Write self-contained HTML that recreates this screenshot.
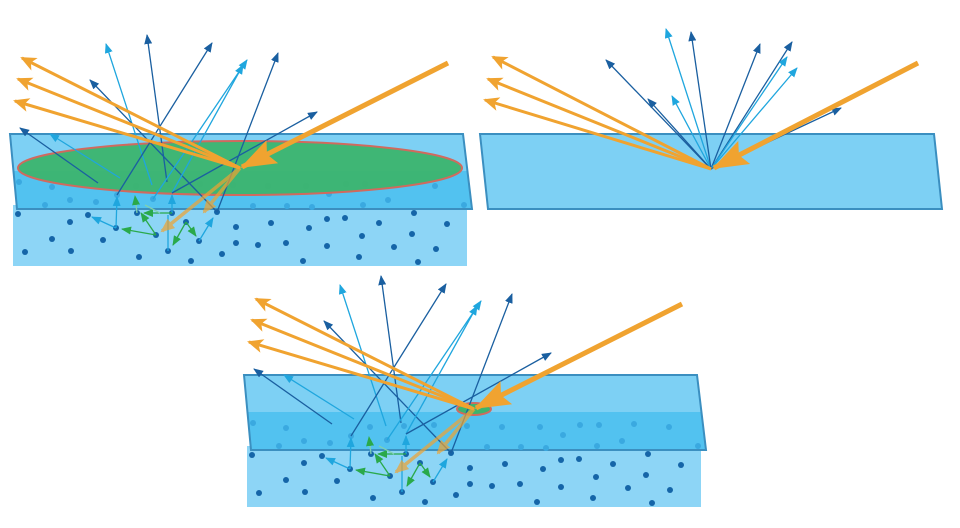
<!DOCTYPE html>
<html><head><meta charset="utf-8"><style>html,body{margin:0;padding:0;background:#fff}svg{display:block}</style></head>
<body>
<svg width="960" height="528" viewBox="0 0 960 528" xmlns="http://www.w3.org/2000/svg">
<defs>
<marker id="mo" markerUnits="userSpaceOnUse" markerWidth="20" markerHeight="14" refX="14" refY="7" orient="auto"><path d="M0,0 L16,7 L0,14 L4,7 Z" fill="#f0a330"/></marker>
<marker id="mO" markerUnits="userSpaceOnUse" markerWidth="36" markerHeight="26" refX="34" refY="13" orient="auto"><path d="M0,0 L36,13 L0,26 L6,13 Z" fill="#f0a330"/></marker>
<marker id="md" markerUnits="userSpaceOnUse" markerWidth="10" markerHeight="8" refX="9" refY="4" orient="auto"><path d="M0,0 L10,4 L0,8 Z" fill="#1a5fa0"/></marker>
<marker id="ml" markerUnits="userSpaceOnUse" markerWidth="10" markerHeight="8" refX="9" refY="4" orient="auto"><path d="M0,0 L10,4 L0,8 Z" fill="#1fa6de"/></marker>
<marker id="mg" markerUnits="userSpaceOnUse" markerWidth="10" markerHeight="8" refX="9" refY="4" orient="auto"><path d="M0,0 L10,4 L0,8 Z" fill="#2aa94a"/></marker>
<marker id="mf" markerUnits="userSpaceOnUse" markerWidth="14" markerHeight="12" refX="12" refY="6" orient="auto"><path d="M0,0 L14,6 L0,12 Z" fill="#f0a330"/></marker>

<g id="base">
 <rect x="13" y="205" width="454" height="61" fill="#8dd5f6"/>
 <polygon points="10,134 463,134 472,209 17,209" fill="#7dd0f4"/>
 <polygon points="14,171 467,171 472,209 17,209" fill="#52c2f0"/>
 <polygon points="10,134 463,134 472,209 17,209" fill="none" stroke="#3b8fc0" stroke-width="2"/>
 <g fill="#3aa9e0">
  <circle cx="19" cy="182" r="3"/><circle cx="52" cy="187" r="3"/><circle cx="45" cy="205" r="3"/><circle cx="70" cy="200" r="3"/><circle cx="96" cy="202" r="3"/><circle cx="117" cy="195" r="3"/><circle cx="153" cy="199" r="3"/><circle cx="253" cy="206" r="3"/><circle cx="287" cy="206" r="3"/><circle cx="312" cy="207" r="3"/><circle cx="329" cy="194" r="3"/><circle cx="363" cy="205" r="3"/><circle cx="388" cy="200" r="3"/><circle cx="435" cy="186" r="3"/><circle cx="464" cy="205" r="3"/><circle cx="200" cy="184" r="3"/><circle cx="233" cy="185" r="3"/><circle cx="268" cy="186" r="3"/><circle cx="306" cy="186" r="3"/><circle cx="346" cy="184" r="3"/><circle cx="365" cy="184" r="3"/><circle cx="400" cy="183" r="3"/><circle cx="136" cy="186" r="3"/><circle cx="170" cy="185" r="3"/>
 </g>
 <g fill="#1565a8">
  <circle cx="18" cy="214" r="3"/><circle cx="70" cy="222" r="3"/><circle cx="88" cy="215" r="3"/><circle cx="52" cy="239" r="3"/><circle cx="25" cy="252" r="3"/><circle cx="71" cy="251" r="3"/><circle cx="103" cy="240" r="3"/><circle cx="116" cy="228" r="3"/><circle cx="137" cy="213" r="3"/><circle cx="156" cy="235" r="3"/><circle cx="172" cy="213" r="3"/><circle cx="186" cy="222" r="3"/><circle cx="199" cy="241" r="3"/><circle cx="168" cy="251" r="3"/><circle cx="139" cy="257" r="3"/><circle cx="191" cy="261" r="3"/><circle cx="217" cy="212" r="3"/><circle cx="222" cy="254" r="3"/><circle cx="236" cy="227" r="3"/><circle cx="236" cy="243" r="3"/><circle cx="258" cy="245" r="3"/><circle cx="271" cy="223" r="3"/><circle cx="286" cy="243" r="3"/><circle cx="303" cy="261" r="3"/><circle cx="309" cy="228" r="3"/><circle cx="327" cy="219" r="3"/><circle cx="327" cy="246" r="3"/><circle cx="345" cy="218" r="3"/><circle cx="362" cy="236" r="3"/><circle cx="359" cy="257" r="3"/><circle cx="379" cy="223" r="3"/><circle cx="394" cy="247" r="3"/><circle cx="412" cy="234" r="3"/><circle cx="414" cy="213" r="3"/><circle cx="418" cy="262" r="3"/><circle cx="436" cy="249" r="3"/><circle cx="447" cy="224" r="3"/>
 </g>
</g>

<g id="rays">
 <g stroke-width="1.3" fill="none">
  <line x1="98" y1="183" x2="20" y2="128" stroke="#1a5fa0" marker-end="url(#md)"/>
  <line x1="120" y1="178" x2="50" y2="134" stroke="#1fa6de" marker-end="url(#ml)"/>
  <line x1="152" y1="185" x2="106" y2="44" stroke="#1fa6de" marker-end="url(#ml)"/>
  <line x1="167" y1="182" x2="147" y2="35" stroke="#1a5fa0" marker-end="url(#md)"/>
  <line x1="117" y1="195" x2="212" y2="43" stroke="#1a5fa0" marker-end="url(#md)"/>
  <line x1="217" y1="212" x2="90" y2="80" stroke="#1a5fa0" marker-end="url(#md)"/>
  <line x1="153" y1="199" x2="247" y2="60" stroke="#1fa6de" marker-end="url(#ml)"/>
  <line x1="172" y1="193" x2="243" y2="65" stroke="#1fa6de" marker-end="url(#ml)"/>
  <line x1="217" y1="212" x2="278" y2="53" stroke="#1a5fa0" marker-end="url(#md)"/>
  <line x1="172" y1="193" x2="317" y2="112" stroke="#1a5fa0" marker-end="url(#md)"/>
  <line x1="116" y1="228" x2="117" y2="197" stroke="#1fa6de" marker-end="url(#ml)"/>
  <line x1="116" y1="228" x2="92" y2="217" stroke="#1fa6de" marker-end="url(#ml)"/>
  <line x1="172" y1="213" x2="172" y2="195" stroke="#1fa6de" marker-end="url(#ml)"/>
  <line x1="199" y1="241" x2="213" y2="218" stroke="#1fa6de" marker-end="url(#ml)"/>
  <line x1="168" y1="251" x2="168" y2="215" stroke="#1fa6de"/>
  <line x1="156" y1="235" x2="122" y2="229" stroke="#2aa94a" marker-end="url(#mg)"/>
  <line x1="172" y1="213" x2="144" y2="213" stroke="#2aa94a" marker-end="url(#mg)"/>
  <line x1="156" y1="235" x2="141" y2="213" stroke="#2aa94a" marker-end="url(#mg)"/>
  <line x1="186" y1="222" x2="173" y2="245" stroke="#2aa94a" marker-end="url(#mg)"/>
  <line x1="186" y1="222" x2="196" y2="236" stroke="#2aa94a" marker-end="url(#mg)"/>
  <line x1="137" y1="213" x2="135" y2="196" stroke="#7fd0b0" marker-end="url(#mg)"/>
  <line x1="145" y1="205" x2="160" y2="213" stroke="#7fd0b0"/>
 </g>
 <g stroke="#f0a330" stroke-width="3.5" opacity="0.7">
  <line x1="240" y1="168" x2="162" y2="231" marker-end="url(#mf)"/>
  <line x1="240" y1="168" x2="204" y2="212" marker-end="url(#mf)"/>
 </g>
 <g stroke="#f0a330" stroke-width="3" fill="none">
  <line x1="240" y1="168" x2="22" y2="58" marker-end="url(#mo)"/>
  <line x1="240" y1="168" x2="18" y2="79" marker-end="url(#mo)"/>
  <line x1="240" y1="168" x2="15" y2="101" marker-end="url(#mo)"/>
 </g>
 <line x1="448" y1="63" x2="242" y2="167" stroke="#f0a330" stroke-width="5" marker-end="url(#mO)"/>
</g>
</defs>

<use href="#base"/>
<ellipse cx="240" cy="168" rx="222" ry="27" fill="#3cb46e" fill-opacity="0.95" stroke="#d06a5e" stroke-width="2"/>
<use href="#rays"/>

<g transform="translate(234,241)">
 <use href="#base"/>
 <ellipse cx="240" cy="168" rx="17" ry="6" fill="#3cb46e" stroke="#d06a5e" stroke-width="2"/>
 <use href="#rays"/>
</g>

<polygon points="480,134 934,134 942,209 488,209" fill="#7dd0f4" stroke="#3b8fc0" stroke-width="2"/>
<g stroke-width="1.3" fill="none">
 <line x1="711" y1="169" x2="606" y2="60" stroke="#1a5fa0" marker-end="url(#md)"/>
 <line x1="711" y1="169" x2="648" y2="99" stroke="#1a5fa0" marker-end="url(#md)"/>
 <line x1="711" y1="169" x2="672" y2="96" stroke="#1fa6de" marker-end="url(#ml)"/>
 <line x1="711" y1="169" x2="666" y2="29" stroke="#1fa6de" marker-end="url(#ml)"/>
 <line x1="711" y1="169" x2="691" y2="32" stroke="#1a5fa0" marker-end="url(#md)"/>
 <line x1="711" y1="169" x2="760" y2="44" stroke="#1a5fa0" marker-end="url(#md)"/>
 <line x1="711" y1="169" x2="792" y2="42" stroke="#1a5fa0" marker-end="url(#md)"/>
 <line x1="711" y1="169" x2="787" y2="57" stroke="#1fa6de" marker-end="url(#ml)"/>
 <line x1="711" y1="169" x2="797" y2="68" stroke="#1fa6de" marker-end="url(#ml)"/>
 <line x1="711" y1="169" x2="841" y2="108" stroke="#1a5fa0" marker-end="url(#md)"/>
</g>
<g stroke="#f0a330" stroke-width="3" fill="none">
 <line x1="711" y1="169" x2="493" y2="57" marker-end="url(#mo)"/>
 <line x1="711" y1="169" x2="488" y2="79" marker-end="url(#mo)"/>
 <line x1="711" y1="169" x2="485" y2="100" marker-end="url(#mo)"/>
</g>
<line x1="918" y1="63" x2="714" y2="168" stroke="#f0a330" stroke-width="5" marker-end="url(#mO)"/>
</svg>
</body></html>
